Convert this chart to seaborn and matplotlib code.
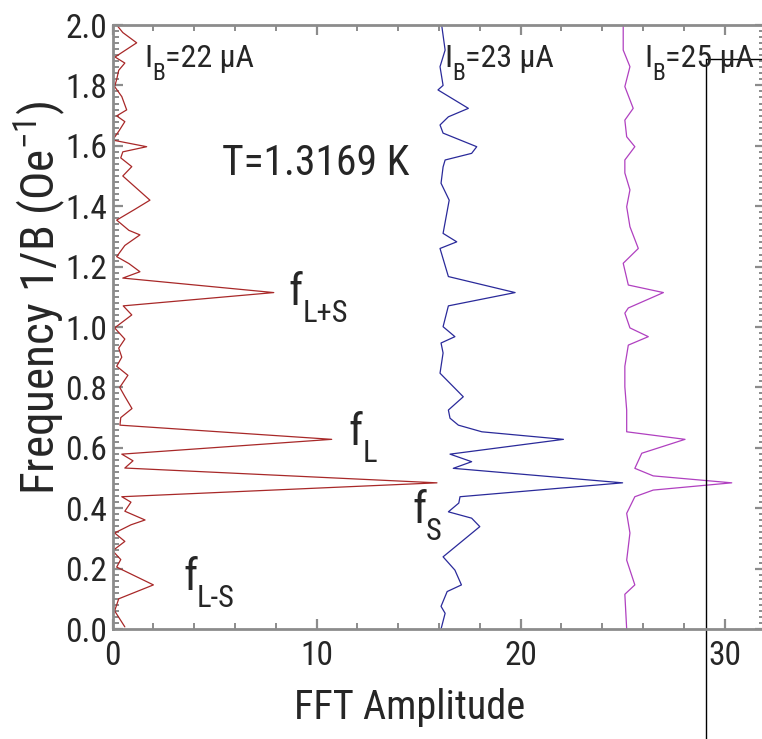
import numpy as np
import pandas as pd
import matplotlib
matplotlib.use("Agg")
import matplotlib.pyplot as plt
import seaborn as sns
from matplotlib.ticker import MultipleLocator
from matplotlib import font_manager

# ---------------- data ----------------
freq_22 = [2.0, 1.975, 1.941, 1.894, 1.874, 1.85, 1.82, 1.796, 1.763, 1.719, 1.699, 1.68,
           1.648, 1.619, 1.597, 1.58, 1.56, 1.531, 1.50, 1.42, 1.39, 1.354, 1.32, 1.305,
           1.27, 1.233, 1.21, 1.183, 1.162, 1.114, 1.07, 1.04, 0.997, 0.96, 0.93, 0.90,
           0.87, 0.84, 0.80, 0.77, 0.73, 0.70, 0.675, 0.628, 0.579, 0.557, 0.533, 0.484,
           0.438, 0.42, 0.39, 0.361, 0.345, 0.318, 0.29, 0.259, 0.23, 0.205, 0.146, 0.10,
           0.06, 0.007]
amp_22 = [0.2, 0.5, 1.18, 0.12, 0.6, 0.3, 0.2, 0.1, 0.45, 0.69, 0.2, 0.6,
          0.3, 0.0, 1.67, 0.5, 0.4, 0.94, 0.5, 1.83, 1.1, 0.2, 0.8, 1.34,
          0.6, 0.2, 0.8, 1.34, 0.5, 7.9, 0.52, 0.94, 0.1, 0.6, 0.3, 0.45,
          0.2, 0.75, 0.35, 0.6, 0.95, 0.4, 0.36, 10.74, 0.45, 1.0, 0.6, 15.9,
          0.45, 0.9, 0.6, 1.59, 0.9, 0.1, 0.6, 0.0, 0.4, 0.2, 2.0, 0.3,
          0.1, 0.6]

freq_23 = [2.0, 1.917, 1.862, 1.80, 1.785, 1.724, 1.696, 1.669, 1.642, 1.597, 1.575, 1.553,
           1.53, 1.476, 1.42, 1.31, 1.282, 1.26, 1.167, 1.114, 1.07, 1.001, 0.968, 0.947,
           0.914, 0.847, 0.769, 0.725, 0.698, 0.675, 0.653, 0.628, 0.579, 0.554, 0.532,
           0.484, 0.438, 0.417, 0.388, 0.367, 0.339, 0.239, 0.195, 0.146, 0.124, 0.075,
           0.052, 0.0]
amp_23 = [16.13, 16.3, 16.05, 16.2, 15.95, 17.44, 16.46, 16.05, 16.2, 17.85, 17.6, 16.3,
          16.2, 16.1, 16.5, 16.2, 16.87, 16.05, 16.46, 19.73, 16.46, 16.2, 16.78, 16.1,
          16.2, 16.05, 17.19, 16.46, 16.54, 16.95, 18.1, 22.1, 16.54, 17.6, 16.7,
          25.0, 17.03, 16.97, 16.46, 17.6, 18.0, 16.2, 16.78, 17.1, 16.4, 16.1,
          16.3, 16.1]

freq_25 = [2.0, 1.917, 1.862, 1.796, 1.724, 1.685, 1.63, 1.597, 1.553, 1.51, 1.454, 1.398,
           1.332, 1.26, 1.211, 1.139, 1.114, 1.063, 1.046, 0.997, 0.968, 0.940, 0.87, 0.802,
           0.725, 0.653, 0.628, 0.582, 0.532, 0.507, 0.484, 0.46, 0.438, 0.383, 0.318,
           0.228, 0.146, 0.115, 0.0]
amp_25 = [25.03, 25.03, 25.36, 25.11, 25.52, 25.11, 25.2, 25.6, 25.11, 25.11, 25.36, 25.2,
          25.36, 25.77, 25.03, 25.28, 27.0, 25.28, 25.11, 25.36, 26.26, 25.28, 25.11, 25.11,
          25.2, 25.2, 28.06, 25.94, 25.6, 26.5, 30.35, 26.5, 25.6, 25.2, 25.36,
          25.2, 25.6, 25.11, 25.2]

series_currents = ["22", "23", "25"]
series_colors = ["#a82828", "#2a2a9a", "#b040c0"]
x_ticks = [0, 10, 20, 30]
y_ticks = [0.0, 0.2, 0.4, 0.6, 0.8, 1.0, 1.2, 1.4, 1.6, 1.8, 2.0]
peak_labels = [("f", "L+S"), ("f", "L"), ("f", "S"), ("f", "L-S")]
temperature_label = "T=1.3169 K"

# ---------------- style ----------------
sns.set_style("ticks")
names = {f.name for f in font_manager.fontManager.ttflist}
if "Roboto Condensed" in names:
    MAIN = "Roboto Condensed"
    SZ = dict(tick=24, T=30, IB=23, ibsub=17, xl=29, yl=34, f=32, sub=22)
else:
    MAIN = "Liberation Sans"
    SZ = dict(tick=22, T=25, IB=19, ibsub=14, xl=25, yl=30, f=30, sub=18)
FONT = [MAIN, "DejaVu Sans"]
plt.rcParams["font.family"] = FONT
plt.rcParams["mathtext.fontset"] = "custom"
plt.rcParams["mathtext.rm"] = MAIN
plt.rcParams["mathtext.it"] = MAIN
plt.rcParams["mathtext.bf"] = MAIN

fig = plt.figure(figsize=(7.62, 7.39), dpi=100)
ax = fig.add_axes([112.6 / 762, 110 / 739, (765 - 112.6) / 762, 604 / 739])

frames = []
for f, a, lab in [(freq_22, amp_22, series_currents[0]),
                  (freq_23, amp_23, series_currents[1]),
                  (freq_25, amp_25, series_currents[2])]:
    frames.append(pd.DataFrame({"freq": f, "amp": a, "series": lab}))
df = pd.concat(frames, ignore_index=True)

sns.lineplot(data=df, x="amp", y="freq", hue="series", palette=series_colors,
             sort=False, estimator=None, linewidth=0.9, legend=False, ax=ax)

ax.set_xlim(0, (765 - 112.6) / 20.4)
ax.set_ylim(0, 2.0)
ax.set_xticks(x_ticks)
ax.set_yticks(y_ticks)
ax.set_yticklabels([f"{v:.1f}" for v in y_ticks])
ax.xaxis.set_minor_locator(MultipleLocator(2))
ax.yaxis.set_minor_locator(MultipleLocator(0.02))
grey = "#8c8c8c"
for s in ax.spines.values():
    s.set_color(grey)
    s.set_linewidth(2.0)
ax.tick_params(which="both", direction="in", top=True, right=True, color=grey,
               labelsize=SZ["tick"])
ax.tick_params(which="major", length=7, width=1.6)
ax.tick_params(which="minor", length=4.3, width=1.4)
ax.tick_params(axis="y", pad=4)
ax.tick_params(axis="x", pad=8)

ax.set_xlabel("FFT Amplitude", fontsize=SZ["xl"])
ax.xaxis.set_label_coords(0.456, -0.097)
ax.xaxis.label.set_va("top")
ax.set_ylabel(r"Frequency 1/B (Oe$^{\mathregular{-1}}$)", fontsize=SZ["yl"])
ax.yaxis.set_label_coords(-0.068, 0.548)


def sub_label(x, y, main, sub, rest, size, subsize, drop):
    t = ax.text(x, y, main, fontsize=size, va="baseline", ha="left")
    s = ax.annotate(sub, xy=(1, y - drop), xycoords=(t, "data"),
                    fontsize=subsize, va="baseline", ha="left")
    if rest:
        ax.annotate(rest, xy=(1, y), xycoords=(s, "data"),
                    fontsize=size, va="baseline", ha="left")


ib_x = [1.55, 16.25, 26.05]
for x, cur in zip(ib_x, series_currents):
    sub_label(x, 1.861, "I", "B", "=" + cur + " μA", SZ["IB"], SZ["ibsub"], 0.043)

ax.text(5.37, 1.503, temperature_label, fontsize=SZ["T"], va="baseline", ha="left")

peak_pos = [(8.6, 1.073), (11.54, 0.609), (14.68, 0.351), (3.45, 0.129)]
for (x, y), (m, s) in zip(peak_pos, peak_labels):
    sub_label(x, y, m, s, "", SZ["f"], SZ["sub"], 0.056)

# stray cursor lines seen in reference
cx, cy = 29.1, 1.887
ax.plot([cx, cx], [cy, -0.4], color="black", lw=1.0, clip_on=False)
ax.plot([cx, 33.0], [cy, cy], color="black", lw=1.0, clip_on=False)

fig.savefig("out.png", dpi=100)
